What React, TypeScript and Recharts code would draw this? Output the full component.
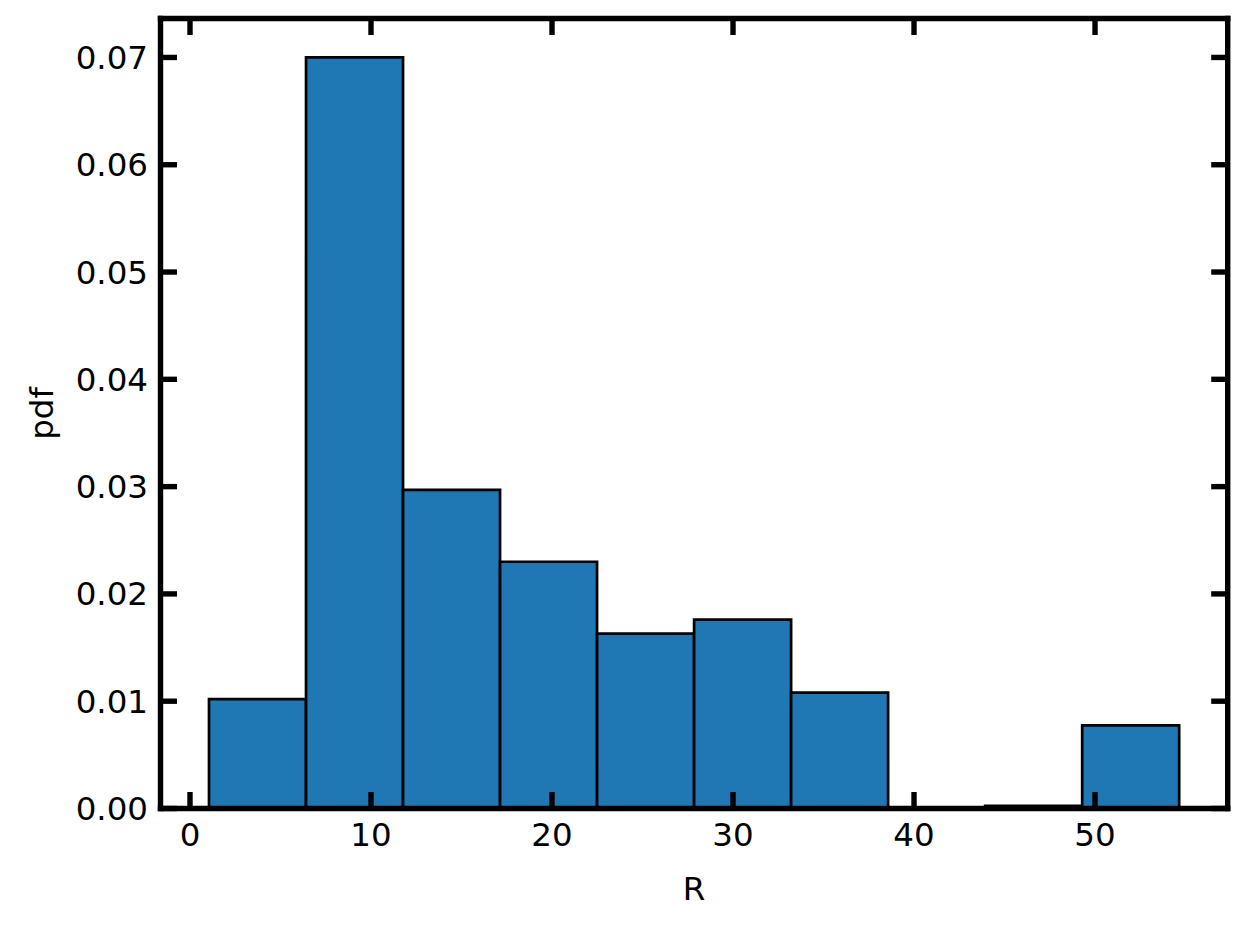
import React from 'react';
import { BarChart, Bar, XAxis, YAxis, Label, Text } from 'recharts';

// histogram of R, 10 bins (bin centres)
const binCenters = [3.73, 9.09, 14.45, 19.81, 25.17, 30.53, 35.89, 41.25, 46.61, 51.97];
const pdfValues = [0.0102, 0.07, 0.0297, 0.023, 0.0163, 0.0176, 0.0108, 0, 0.00025, 0.00775];
const xTicks = [0, 10, 20, 30, 40, 50];
const yTicks = [0, 0.01, 0.02, 0.03, 0.04, 0.05, 0.06, 0.07];

const data = binCenters.map((r, i) => ({ r, pdf: pdfValues[i] }));

const FONT = 'DejaVu Sans';
const tickFont = { fontSize: 32.5, fill: '#000', fontFamily: FONT };
const spine = { stroke: '#000', strokeWidth: 5.4, strokeLinecap: 'square' as const };
const tickLine = { stroke: '#000', strokeWidth: 5.4 };

const xDomain: [number, number] = [-1.63, 57.33];
const yDomain: [number, number] = [0, 0.07363];

// top / right axes only carry the inward tick marks
const NoLabel = () => <g />;

function PdfLabel(props: any) {
  const vb = props.viewBox;
  return (
    <Text
      x={vb.x + 41}
      y={vb.y + vb.height / 2}
      angle={-90}
      textAnchor="middle"
      verticalAnchor="middle"
      fontSize={32.5}
      fontFamily={FONT}
      fill="#000"
    >
      pdf
    </Text>
  );
}

export default function App() {
  return (
    <div style={{ position: 'absolute', left: 0, top: 0, background: '#fff' }}>
      <BarChart
        width={1247}
        height={927}
        data={data}
        margin={{ top: 17.5, right: 18.3, left: 0, bottom: 0 }}
        barCategoryGap={0}
        barGap={0}
      >
        <Bar
          dataKey="pdf"
          xAxisId="bottom"
          yAxisId="left"
          fill="#1f77b4"
          stroke="#000"
          strokeWidth={2.7}
          isAnimationActive={false}
        />
        <XAxis
          xAxisId="bottom"
          dataKey="r"
          type="number"
          domain={xDomain}
          allowDataOverflow
          ticks={xTicks}
          height={118.5}
          tickSize={-16.5}
          tickMargin={30.5}
          axisLine={spine}
          tickLine={tickLine}
          tick={tickFont}
        >
          <Label value="R" position="insideTop" offset={68} fontSize={32.5} fontFamily={FONT} fill="#000" />
        </XAxis>
        <XAxis
          xAxisId="top"
          orientation="top"
          dataKey="r"
          type="number"
          domain={xDomain}
          allowDataOverflow
          ticks={xTicks}
          height={1}
          tickSize={-16.5}
          tickMargin={0}
          axisLine={spine}
          tickLine={tickLine}
          tick={<NoLabel />}
        />
        <YAxis
          yAxisId="left"
          type="number"
          domain={yDomain}
          allowDataOverflow
          ticks={yTicks}
          width={160.5}
          tickSize={-16.5}
          tickMargin={29}
          tickFormatter={(v: number) => v.toFixed(2)}
          axisLine={spine}
          tickLine={tickLine}
          tick={tickFont}
        >
          <Label content={<PdfLabel />} />
        </YAxis>
        <YAxis
          yAxisId="right"
          orientation="right"
          type="number"
          domain={yDomain}
          allowDataOverflow
          ticks={yTicks}
          width={1}
          tickSize={-16.5}
          tickMargin={0}
          axisLine={spine}
          tickLine={tickLine}
          tick={<NoLabel />}
        />
      </BarChart>
    </div>
  );
}
